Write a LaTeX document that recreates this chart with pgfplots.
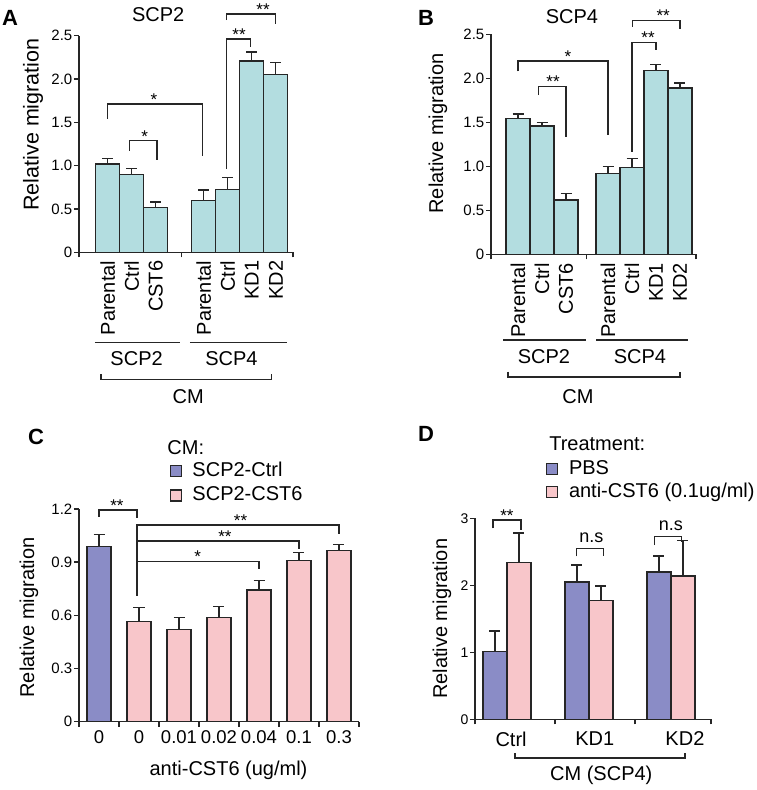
\documentclass[border=0pt]{standalone}
\usepackage{pgfplots}
\pgfplotsset{compat=1.18}
\usepackage{fontspec}
\setmainfont{Liberation Sans}
\definecolor{lblue}{HTML}{B3DDE0}
\definecolor{purp}{HTML}{8A8CC6}
\definecolor{pinkb}{HTML}{F8C6CA}
\definecolor{dk}{HTML}{262626}
\newcommand{\FS}[1]{\fontsize{#1}{#1}\selectfont}
\pgfplotsset{
  sqleg/.style={legend image code/.code={\draw[##1,/tikz/.cd,line width=1.2pt] (0pt,-5.5pt) rectangle (11pt,5.5pt);}},
  panel/.style={
    scale only axis, axis lines=left,
    axis line style={-, line width=1.4pt, draw=dk},
    tick align=outside, major tick length=5pt, minor tick length=5pt,
    tick style={line width=1.4pt, draw=dk},
    major x tick style={draw=none},
    ymin=0, clip=false, ybar, bar width=24pt,
    yticklabel style={font=\FS{15}, inner sep=1.5pt},
    xticklabel style={font=\FS{20}},
    label style={font=\FS{20}},
    every axis plot/.append style={draw=dk, line width=1.4pt},
    sqleg,
  },
  eb/.style={error bars/.cd, y dir=plus, y explicit,
    error bar style={line width=1.4pt, draw=dk},
    error mark options={rotate=90, mark size=5.5pt, line width=1.4pt, draw=dk}},
}
\tikzset{
  br/.style={draw=dk, line width=1.4pt},
  st/.style={anchor=base, font=\FS{17}, inner sep=0pt, yshift=-1.5pt},
  ns/.style={anchor=base, font=\FS{18}, inner sep=0pt, yshift=6pt},
  lab/.style={font=\FS{20}, inner sep=0pt, anchor=center},
  plab/.style={font=\bfseries\FS{22}, inner sep=0pt, anchor=center},
}
\begin{document}
\begin{tikzpicture}
\path[use as bounding box] (0,0) rectangle (757pt,790pt);
% ---------------- A ----------------
\begin{axis}[panel, at={(79pt,537.7pt)}, anchor=south west, width=214pt, height=216.6pt,
  xmin=-1.2, xmax=7.717, ymax=2.5,
  ytick={0,0.5,1,1.5,2,2.5}, yticklabels={0,0.5,1.0,1.5,2.0,2.5},
  xtick={0,1,2,4,5,6,7}, xticklabels={Parental,Ctrl,CST6,Parental,Ctrl,KD1,KD2},
  xticklabel style={rotate=90, anchor=east},
  minor xtick={-1.2,3.08,7.717},
  ylabel={Relative migration},
  ylabel style={at={(axis description cs:-0.215,0.59)}, anchor=center, font=\FS{21.5}},
]
\addplot[fill=lblue, eb] coordinates {(0,1.02) +- (0,0.06) (1,0.90) +- (0,0.065) (2,0.52) +- (0,0.06) (4,0.60) +- (0,0.12) (5,0.725) +- (0,0.135) (6,2.21) +- (0,0.10) (7,2.05) +- (0,0.14)};
\draw[br] (axis cs:0,1.54) -- (axis cs:0,1.71) -- (axis cs:3.95,1.71) -- (axis cs:3.95,1.11);
\node[st] at (axis cs:1.92,1.71) {*};
\draw[br] (axis cs:0.9,1.17) -- (axis cs:0.9,1.29) -- (axis cs:2.05,1.29) -- (axis cs:2.05,1.06);
\node[st] at (axis cs:1.54,1.29) {*};
\draw[br] (axis cs:4.95,0.96) -- (axis cs:4.95,2.46) -- (axis cs:5.95,2.46) -- (axis cs:5.95,2.37);
\node[st] at (axis cs:5.47,2.46) {**};
\draw[br] (axis cs:4.95,2.68) -- (axis cs:4.95,2.75) -- (axis cs:7.0,2.75) -- (axis cs:7.0,2.64);
\node[st] at (axis cs:6.47,2.75) {**};
\draw[br] (axis cs:-0.54,-1.04) -- (axis cs:3.0,-1.04);
\draw[br] (axis cs:3.42,-1.04) -- (axis cs:7.47,-1.04);
\node[lab] at (axis cs:1.2,-1.23) {SCP2};
\node[lab] at (axis cs:5.15,-1.23) {SCP4};
\draw[br] (axis cs:-0.29,-1.41) -- (axis cs:-0.29,-1.47) -- (axis cs:6.82,-1.47) -- (axis cs:6.82,-1.41);
\node[lab] at (axis cs:3.35,-1.66) {CM};
\node[lab] at (axis cs:2.1,2.74) {SCP2};
\end{axis}
% ---------------- B ----------------
\begin{axis}[panel, at={(491pt,535.5pt)}, anchor=south west, width=205pt, height=220pt,
  xmin=-1.125, xmax=7.417, ymax=2.5,
  ytick={0,0.5,1,1.5,2,2.5}, yticklabels={0,0.5,1.0,1.5,2.0,2.5},
  xtick={0,1,2,3.75,4.75,5.75,6.75}, xticklabels={Parental,Ctrl,CST6,Parental,Ctrl,KD1,KD2},
  xticklabel style={rotate=90, anchor=east},
  minor xtick={-1.125,2.85,7.417},
  ylabel={Relative migration},
  ylabel style={at={(axis description cs:-0.259,0.55)}, anchor=center},
]
\addplot[fill=lblue, eb] coordinates {(0,1.545) +- (0,0.05) (1,1.46) +- (0,0.04) (2,0.617) +- (0,0.075) (3.75,0.92) +- (0,0.08) (4.75,0.99) +- (0,0.10) (5.75,2.09) +- (0,0.07) (6.75,1.89) +- (0,0.06)};
\draw[br] (axis cs:0,2.08) -- (axis cs:0,2.20) -- (axis cs:3.75,2.20) -- (axis cs:3.75,1.36);
\node[st] at (axis cs:2.08,2.20) {*};
\draw[br] (axis cs:0.85,1.81) -- (axis cs:0.85,1.91) -- (axis cs:2.0,1.91) -- (axis cs:2.0,1.34);
\node[st] at (axis cs:1.46,1.91) {**};
\draw[br] (axis cs:4.75,1.17) -- (axis cs:4.75,2.41) -- (axis cs:5.75,2.41) -- (axis cs:5.75,2.32);
\node[st] at (axis cs:5.42,2.41) {**};
\draw[br] (axis cs:4.77,2.59) -- (axis cs:4.77,2.66) -- (axis cs:6.75,2.66) -- (axis cs:6.75,2.56);
\node[st] at (axis cs:6.05,2.66) {**};
\draw[br] (axis cs:-0.625,-0.97) -- (axis cs:2.83,-0.97);
\draw[br] (axis cs:3.25,-0.97) -- (axis cs:7.08,-0.97);
\node[lab] at (axis cs:1.08,-1.16) {SCP2};
\node[lab] at (axis cs:5.08,-1.16) {SCP4};
\draw[br] (axis cs:-0.42,-1.33) -- (axis cs:-0.42,-1.39) -- (axis cs:6.75,-1.39) -- (axis cs:6.75,-1.33);
\node[lab] at (axis cs:2.5,-1.62) {CM};
\node[lab] at (axis cs:2.25,2.70) {SCP4};
\end{axis}
% ---------------- C ----------------
\begin{axis}[panel, at={(79pt,68.3pt)}, anchor=south west, width=280pt, height=212.7pt,
  xmin=-0.5, xmax=6.5, ymax=1.2,
  ytick={0,0.3,0.6,0.9,1.2}, yticklabels={0,0.3,0.6,0.9,1.2},
  xtick={0,1,2,3,4,5,6}, xticklabels={0,0,0.01,0.02,0.04,0.1,0.3},
  xticklabel style={font=\FS{18.5}},
  minor xtick={-0.5,0.5,1.5,2.5,3.5,4.5,5.5,6.5},
  ylabel={Relative migration},
  ylabel style={at={(axis description cs:-0.179,0.49)}, anchor=center},
  xlabel={anti-CST6 (ug/ml)},
  xlabel style={at={(axis description cs:0.534,-0.227)}, anchor=center},
  legend style={at={(axis description cs:0.326,1.22)}, anchor=north west, draw=none, fill=none,
    inner sep=0pt, outer sep=0pt, font=\FS{20}, row sep=6.3pt,
    nodes={inner sep=0pt, text height=14pt, text depth=4pt},
    /tikz/every odd column/.style={column sep=10pt}},
  legend cell align=left, sqleg,
]
\addplot[fill=purp, bar shift=0pt, eb] coordinates {(0,0.99) +- (0,0.067)};
\addlegendentry{SCP2-Ctrl}
\addplot[fill=pinkb, bar shift=0pt, eb] coordinates {(1,0.564) +- (0,0.08) (2,0.52) +- (0,0.067) (3,0.587) +- (0,0.063) (4,0.744) +- (0,0.051) (5,0.91) +- (0,0.043) (6,0.966) +- (0,0.034)};
\addlegendentry{SCP2-CST6}
\draw[br] (axis cs:0,1.156) -- (axis cs:0,1.194) -- (axis cs:0.95,1.194) -- (axis cs:0.95,1.15);
\node[st] at (axis cs:0.45,1.194) {**};
\draw[br] (axis cs:0.95,0.71) -- (axis cs:0.95,1.109) -- (axis cs:6,1.109) -- (axis cs:6,1.061);
\node[st] at (axis cs:3.54,1.109) {**};
\draw[br] (axis cs:0.95,1.02) -- (axis cs:5,1.02) -- (axis cs:5,0.976);
\node[st] at (axis cs:3.15,1.02) {**};
\draw[br] (axis cs:0.95,0.904) -- (axis cs:4,0.904) -- (axis cs:4,0.862);
\node[st] at (axis cs:2.47,0.904) {*};
\node[lab, anchor=west] at (axis description cs:0.315,1.29) {CM:};
\end{axis}
% ---------------- D ----------------
\begin{axis}[panel, at={(475pt,70.7pt)}, anchor=south west, width=236pt, height=201pt,
  ybar=0pt, xmin=-0.39, xmax=2.488, ymax=3,
  ytick={0,1,2,3}, yticklabels={0,1,2,3},
  yticklabel style={font=\FS{14}},
  xtick={0.05,1.07,2.17}, xticklabels={Ctrl,KD1,KD2},
  xticklabel style={yshift=-4pt},
  minor xtick={-0.39,0.585,1.56,2.488},
  ylabel={Relative migration},
  ylabel style={at={(axis description cs:-0.14,0.50)}, anchor=center},
  legend style={at={(axis description cs:0.30,1.29)}, anchor=north west, draw=none, fill=none,
    inner sep=0pt, outer sep=0pt, font=\FS{20}, row sep=5pt,
    nodes={inner sep=0pt, text height=14pt, text depth=4pt},
    /tikz/every odd column/.style={column sep=11pt}},
  legend cell align=left, sqleg,
]
\addplot[fill=purp, eb] coordinates {(0,1.01) +- (0,0.31) (1,2.05) +- (0,0.25) (2,2.20) +- (0,0.24)};
\addlegendentry{PBS}
\addplot[fill=pinkb, eb] coordinates {(0,2.34) +- (0,0.44) (1,1.77) +- (0,0.22) (2,2.14) +- (0,0.53)};
\addlegendentry{anti-CST6 (0.1ug/ml)}
\draw[br] (axis cs:-0.17,2.85) -- (axis cs:-0.17,2.975) -- (axis cs:0.17,2.975) -- (axis cs:0.17,2.83);
\node[st] at (axis cs:0,2.975) {**};
\draw[br] (axis cs:0.845,2.43) -- (axis cs:0.845,2.55) -- (axis cs:1.18,2.55) -- (axis cs:1.18,2.43);
\node[ns] at (axis cs:1.03,2.55) {n.s};
\draw[br] (axis cs:1.80,2.60) -- (axis cs:1.80,2.73) -- (axis cs:2.13,2.73) -- (axis cs:2.13,2.65);
\node[ns] at (axis cs:2.0,2.73) {n.s};
\draw[br] (axis cs:0.1,-0.51) -- (axis cs:0.1,-0.58) -- (axis cs:2.17,-0.58) -- (axis cs:2.17,-0.51);
\node[lab] at (axis cs:1.15,-0.84) {CM (SCP4)};
\node[lab, anchor=west] at (axis description cs:0.314,1.37) {Treatment:};
\end{axis}
% panel letters
\node[plab] at (10pt,772.5pt) {A};
\node[plab] at (426pt,772pt) {B};
\node[plab] at (36pt,353pt) {C};
\node[plab] at (426pt,356pt) {D};
\end{tikzpicture}
\end{document}
